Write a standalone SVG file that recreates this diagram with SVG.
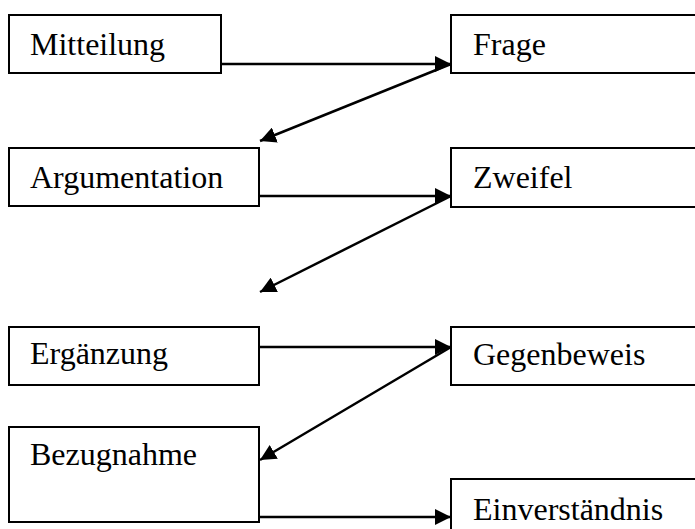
<svg xmlns="http://www.w3.org/2000/svg" width="695" height="529" viewBox="0 0 695 529">
<style>
.box{fill:#fff;stroke:#000;stroke-width:2}
.lbl{font-family:"Liberation Serif","Times New Roman",serif;font-size:32px;fill:#000}
.conn{stroke:#000;stroke-width:2.5;fill:none;marker-end:url(#ah)}
</style>
<defs>
<marker id="ah" markerUnits="userSpaceOnUse" markerWidth="18" markerHeight="16" refX="16" refY="8" orient="auto">
<path d="M0,0 L16,8 L0,16 Z" fill="#000"/>
</marker>
</defs>
<rect width="695" height="529" fill="#fff"/>
<g id="mitteilung"><rect class="box" x="9" y="15" width="212" height="58"/><text class="lbl" x="30" y="55">Mitteilung</text></g>
<g id="frage"><rect class="box" x="451" y="15" width="260" height="58"/><text class="lbl" x="473" y="55">Frage</text></g>
<g id="argumentation"><rect class="box" x="9" y="148" width="250" height="58"/><text class="lbl" x="30" y="188">Argumentation</text></g>
<g id="zweifel"><rect class="box" x="451" y="148" width="260" height="59"/><text class="lbl" x="473" y="188">Zweifel</text></g>
<g id="ergaenzung"><rect class="box" x="9" y="327" width="250" height="58"/><text class="lbl" x="30" y="364">Ergänzung</text></g>
<g id="gegenbeweis"><rect class="box" x="451" y="327" width="260" height="58"/><text class="lbl" x="473" y="365">Gegenbeweis</text></g>
<g id="bezugnahme"><rect class="box" x="9" y="427" width="250" height="95"/><text class="lbl" x="30" y="465">Bezugnahme</text></g>
<g id="einverstaendnis"><rect class="box" x="451" y="479" width="260" height="70"/><text class="lbl" x="473" y="520">Einverständnis</text></g>
<g id="connectors">
<line class="conn" x1="221" y1="64" x2="451" y2="64"/>
<line class="conn" x1="451" y1="64" x2="260" y2="141"/>
<line class="conn" x1="259" y1="196" x2="451" y2="196"/>
<line class="conn" x1="451" y1="196" x2="260" y2="292"/>
<line class="conn" x1="259" y1="347" x2="451" y2="347"/>
<line class="conn" x1="451" y1="347" x2="260" y2="460"/>
<line class="conn" x1="259" y1="517" x2="451" y2="517"/>
</g>
</svg>
